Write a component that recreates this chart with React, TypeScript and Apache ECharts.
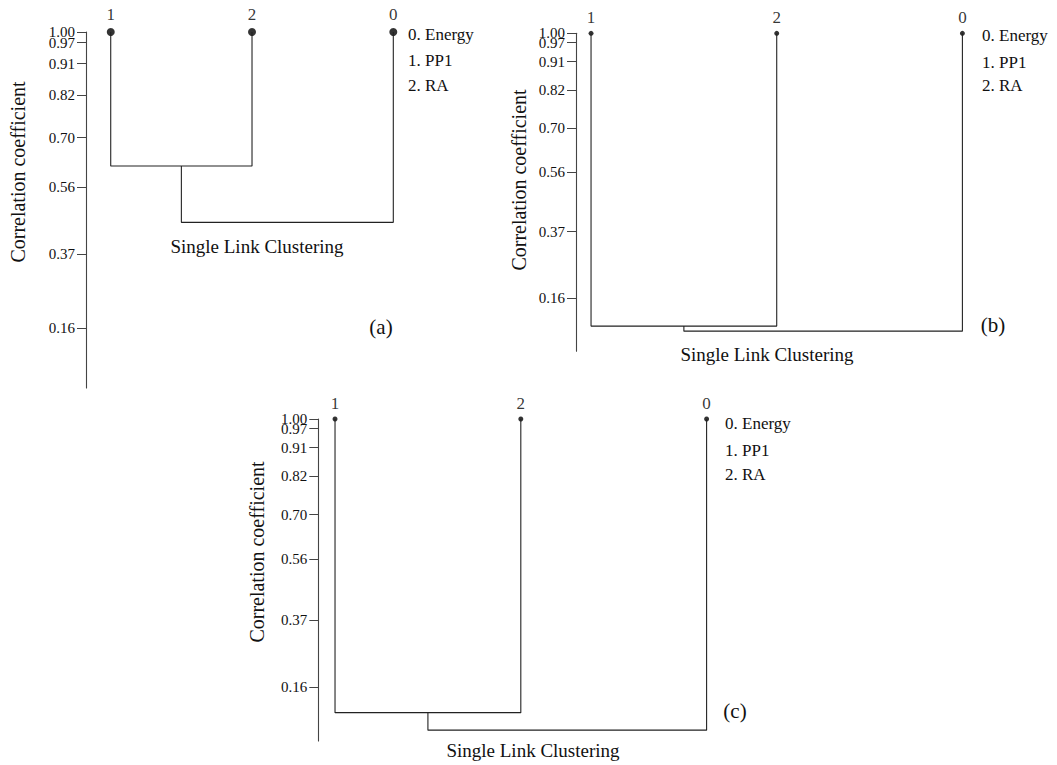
import React, { useEffect, useRef } from "react";
import * as echarts from "echarts";

const leafOrder = ["1", "2", "0"];
const legendItems = ["0. Energy", "1. PP1", "2. RA"];
const yTicks = [1.0, 0.97, 0.91, 0.82, 0.7, 0.56, 0.37, 0.16];
const leafLevel = 1.0;
// merge levels: [cluster(1,2), cluster((1,2),0)]
const mergeA = [0.62, 0.46];
const mergeB = [0.07, 0.054];
const mergeC = [0.079, 0.024];
const panelTags = ["(a)", "(b)", "(c)"];
const clusterTitle = "Single Link Clustering";
const yTitle = "Correlation coefficient";

const FONT = "Liberation Serif";

// tick labels split over two overlaid axes so that close labels are not dropped
const ticksEven = yTicks.filter((_, k) => k % 2 === 0);
const ticksOdd = yTicks.filter((_, k) => k % 2 === 1);

type Panel = {
  grid: { left: number; top: number; width: number; height: number };
  xMin: number;
  merges: number[];
  dot: number;
  legend: { x: number; y: number[] };
  title: { x: number; y: number };
  tag: { x: number; y: number };
  ytitle: { x: number; y: number };
};

const panels: Panel[] = [
  {
    grid: { left: 86, top: 32, width: 307.3, height: 356 },
    xMin: -0.175,
    merges: mergeA,
    dot: 8,
    legend: { x: 408, y: [34, 60, 85] },
    title: { x: 257, y: 246 },
    tag: { x: 381, y: 327 },
    ytitle: { x: 18, y: 172 },
  },
  {
    grid: { left: 576, top: 33.3, width: 386.4, height: 318 },
    xMin: -0.081,
    merges: mergeB,
    dot: 5,
    legend: { x: 982, y: [35, 62, 85] },
    title: { x: 767, y: 354 },
    tag: { x: 993, y: 325 },
    ytitle: { x: 519, y: 180 },
  },
  {
    grid: { left: 318.3, top: 419, width: 388.3, height: 322 },
    xMin: -0.09,
    merges: mergeC,
    dot: 5,
    legend: { x: 725, y: [423, 450, 474] },
    title: { x: 533, y: 750 },
    tag: { x: 735, y: 711 },
    ytitle: { x: 257, y: 552 },
  },
];

function makeYAxis(gridIndex: number, ticks: number[], showLine: boolean) {
  return {
    type: "value",
    gridIndex,
    position: "left",
    min: -0.01,
    max: 1,
    splitLine: { show: false },
    axisLine: {
      show: showLine,
      onZero: false,
      lineStyle: { color: "#444", width: 1.1 },
    },
    axisTick: {
      show: true,
      length: 9,
      customValues: ticks,
      lineStyle: { color: "#444", width: 1 },
    },
    axisLabel: {
      show: true,
      customValues: ticks,
      hideOverlap: false,
      showMaxLabel: true,
      showMinLabel: true,
      margin: 11,
      formatter: (v: number) => v.toFixed(2),
      fontFamily: FONT,
      fontSize: 15,
      lineHeight: 11,
      color: "#111",
    },
  };
}

export default function App() {
  const ref = useRef<HTMLDivElement>(null);
  useEffect(() => {
    if (!ref.current) return;
    const chart = echarts.init(ref.current, undefined, { renderer: "svg" });
    const grids: any[] = [];
    const xAxes: any[] = [];
    const yAxes: any[] = [];
    const series: any[] = [];
    const graphics: any[] = [];
    const lineStyle = { color: "#222", width: 1.1 };

    panels.forEach((p, i) => {
      grids.push({ ...p.grid });
      xAxes.push({
        type: "value",
        gridIndex: i,
        min: p.xMin,
        max: leafOrder.length - 1,
        show: false,
      });
      yAxes.push(makeYAxis(i, ticksEven, true));
      yAxes.push(makeYAxis(i, ticksOdd, false));
      const yIdx = 2 * i;
      const [h1, h2] = p.merges;
      const mid = 0.5;
      series.push({
        type: "line",
        xAxisIndex: i,
        yAxisIndex: yIdx,
        symbol: "none",
        lineStyle,
        data: [
          [0, leafLevel],
          [0, h1],
          [1, h1],
          [1, leafLevel],
        ],
        silent: true,
      });
      series.push({
        type: "line",
        xAxisIndex: i,
        yAxisIndex: yIdx,
        symbol: "none",
        lineStyle,
        data: [
          [mid, h1],
          [mid, h2],
          [2, h2],
          [2, leafLevel],
        ],
        silent: true,
      });
      series.push({
        type: "scatter",
        xAxisIndex: i,
        yAxisIndex: yIdx,
        symbol: "circle",
        symbolSize: p.dot,
        itemStyle: { color: "#000" },
        label: {
          show: true,
          position: "top",
          distance: 5,
          formatter: "{b}",
          fontFamily: FONT,
          fontSize: 17,
          color: "#000",
        },
        data: leafOrder.map((n, k) => ({ name: n, value: [k, leafLevel] })),
        silent: true,
      });
      legendItems.forEach((t, k) => {
        graphics.push({
          type: "text",
          x: p.legend.x,
          y: p.legend.y[k],
          style: {
            text: t,
            fontFamily: FONT,
            fontSize: 17,
            fill: "#111",
            textAlign: "left",
            textVerticalAlign: "middle",
          },
        });
      });
      graphics.push({
        type: "text",
        x: p.title.x,
        y: p.title.y,
        style: {
          text: clusterTitle,
          fontFamily: FONT,
          fontSize: 19,
          fill: "#111",
          textAlign: "center",
          textVerticalAlign: "middle",
        },
      });
      graphics.push({
        type: "text",
        x: p.tag.x,
        y: p.tag.y,
        style: {
          text: panelTags[i],
          fontFamily: FONT,
          fontSize: 21,
          fill: "#111",
          textAlign: "center",
          textVerticalAlign: "middle",
        },
      });
      graphics.push({
        type: "text",
        x: p.ytitle.x,
        y: p.ytitle.y,
        rotation: Math.PI / 2,
        style: {
          text: yTitle,
          fontFamily: FONT,
          fontSize: 20,
          fill: "#111",
          textAlign: "center",
          textVerticalAlign: "middle",
        },
      });
    });

    chart.setOption({
      animation: false,
      backgroundColor: "#fff",
      grid: grids,
      xAxis: xAxes,
      yAxis: yAxes,
      series,
      graphic: graphics,
    });
    return () => chart.dispose();
  }, []);
  return (
    <div
      ref={ref}
      style={{ position: "fixed", left: 0, top: 0, width: 1057, height: 765 }}
    />
  );
}
